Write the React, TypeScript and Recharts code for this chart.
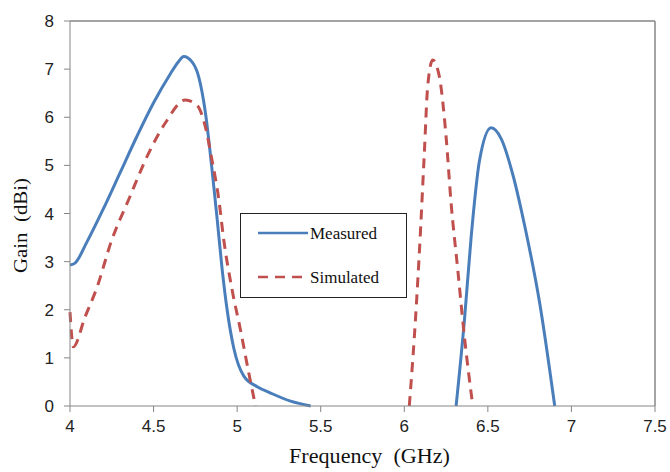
import React from 'react';
import { LineChart, Line, XAxis, YAxis, ReferenceLine, Label } from 'recharts';

// frequency (GHz) / gain (dBi); null breaks the curve
const MEASURED_FREQ = [4.0, 4.03, 4.1, 4.2, 4.3, 4.4, 4.5, 4.6, 4.65, 4.68, 4.73, 4.77, 4.81, 4.85, 4.88, 4.91, 4.94, 4.98, 5.04, 5.12, 5.2, 5.32, 5.44, 5.9, 6.31, 6.36, 6.4, 6.45, 6.52, 6.58, 6.65, 6.72, 6.81, 6.9];
const MEASURED_GAIN = [2.93, 2.97, 3.4, 4.1, 4.85, 5.6, 6.3, 6.9, 7.16, 7.26, 7.15, 6.84, 6.1, 4.9, 3.9, 2.85, 2.0, 1.2, 0.62, 0.4, 0.27, 0.1, 0, null, 0, 1.79, 3.51, 5.1, 5.78, 5.55, 4.8, 3.75, 2.14, 0];

const SIM_FREQ = [4.0, 4.02, 4.09, 4.16, 4.25, 4.35, 4.47, 4.57, 4.69, 4.76, 4.81, 4.85, 4.89, 4.92, 4.97, 5.02, 5.07, 5.11, 5.6, 6.03, 6.06, 6.09, 6.12, 6.14, 6.17, 6.21, 6.25, 6.28, 6.32, 6.36, 6.41];
const SIM_GAIN = [1.95, 1.23, 1.85, 2.45, 3.45, 4.28, 5.25, 5.88, 6.36, 6.25, 5.8, 5.1, 4.3, 3.45, 2.41, 1.58, 0.68, 0, null, 0, 1.43, 3.18, 5.26, 6.64, 7.19, 6.84, 5.6, 4.22, 2.83, 1.43, 0];

const X_TICKS = [4, 4.5, 5, 5.5, 6, 6.5, 7, 7.5];
const Y_TICKS = [0, 1, 2, 3, 4, 5, 6, 7, 8];

const measured = MEASURED_FREQ.map((f, i) => ({ f, g: MEASURED_GAIN[i] }));
const simulated = SIM_FREQ.map((f, i) => ({ f, g: SIM_GAIN[i] }));

const BLUE = '#4a7ebb';
const RED = '#c0504d';
const AXIS = '#868686';
const tickStyle = { fill: '#222', fontSize: 17, fontFamily: 'Liberation Sans, Arial, sans-serif' };
const serif = 'Liberation Serif, Times New Roman, serif';

function LegendBox() {
  return (
    <svg width={168} height={86} style={{ position: 'absolute', left: 240, top: 213 }}>
      <rect x={0.5} y={0.5} width={166} height={84} fill="#fff" stroke="#222" strokeWidth={1} />
      <line x1={18} x2={68} y1={20} y2={20} stroke={BLUE} strokeWidth={2.5} />
      <text x={70} y={26} fontFamily={serif} fontSize={17} fill="#111">Measured</text>
      <line x1={18} x2={68} y1={64} y2={64} stroke={RED} strokeWidth={2.5} strokeDasharray="10 7" />
      <text x={70} y={70} fontFamily={serif} fontSize={17} fill="#111">Simulated</text>
    </svg>
  );
}

export default function App() {
  return (
    <div style={{ position: 'absolute', left: 0, top: 0, width: 670, height: 472, background: '#fff' }}>
      <LineChart width={670} height={472} margin={{ top: 21, right: 15, left: 0, bottom: 0 }}>
        <XAxis
          dataKey="f"
          type="number"
          domain={[4, 7.5]}
          ticks={X_TICKS}
          allowDuplicatedCategory={false}
          stroke={AXIS}
          tickSize={6}
          tickMargin={8}
          tick={tickStyle}
          height={66}
        >
          <Label
            content={({ viewBox }: any) => (
              <text
                x={viewBox.x + viewBox.width / 2 + 7}
                y={viewBox.y + 57}
                textAnchor="middle"
                fontFamily={serif}
                fontSize={21}
                fill="#111"
                textLength={161}
                lengthAdjust="spacingAndGlyphs"
                style={{ whiteSpace: 'pre' }}
              >
                {'Frequency  (GHz)'}
              </text>
            )}
          />
        </XAxis>
        <YAxis
          type="number"
          domain={[0, 8]}
          ticks={Y_TICKS}
          stroke={AXIS}
          tickSize={6}
          tickMargin={10}
          tick={tickStyle}
          width={70}
        >
          <Label
            content={({ viewBox }: any) => {
              const cx = viewBox.x + 21;
              const cy = viewBox.y + viewBox.height / 2 + 12;
              return (
                <text
                  x={cx}
                  y={cy}
                  transform={`rotate(-90 ${cx} ${cy})`}
                  textAnchor="middle"
                  dominantBaseline="central"
                  fontFamily={serif}
                  fontSize={18}
                  fill="#111"
                  textLength={95}
                  lengthAdjust="spacingAndGlyphs"
                  style={{ whiteSpace: 'pre' }}
                >
                  {'Gain  (dBi)'}
                </text>
              );
            }}
          />
        </YAxis>
        <ReferenceLine y={8} stroke={AXIS} strokeWidth={1.5} />
        <ReferenceLine x={7.5} stroke={AXIS} strokeWidth={1.5} />
        <Line data={measured} dataKey="g" type="monotone" stroke={BLUE} strokeWidth={3} dot={false} isAnimationActive={false} />
        <Line data={simulated} dataKey="g" type="monotone" stroke={RED} strokeWidth={3} strokeDasharray="10 7" dot={false} isAnimationActive={false} />
      </LineChart>
      <LegendBox />
    </div>
  );
}
